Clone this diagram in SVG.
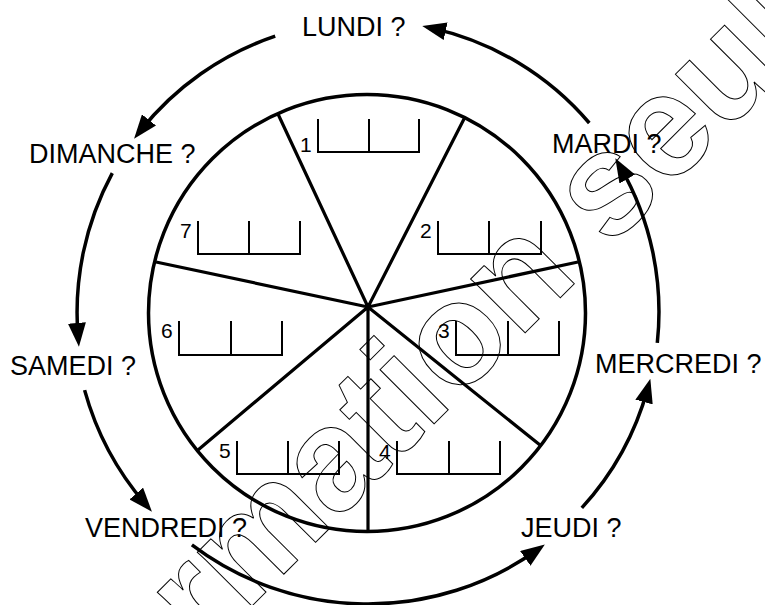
<svg xmlns="http://www.w3.org/2000/svg" width="765" height="605" viewBox="0 0 765 605">
<style>
.lbl{font-family:"Liberation Sans",Arial,Helvetica,sans-serif;font-size:27px;fill:#000}
.dig{font-family:"Liberation Sans",Arial,Helvetica,sans-serif;font-size:21px;fill:#000}
.box{fill:none;stroke:#000;stroke-width:2}
.spoke{stroke:#000;stroke-width:3.2;fill:none}
.arc{fill:none;stroke:#000;stroke-width:3.5;marker-end:url(#ah)}
.wm{font-family:"Liberation Sans",Arial,Helvetica,sans-serif;font-size:145px;font-weight:bold;fill:none;stroke:#000;stroke-width:1}
</style>
<defs>
<marker id="ah" markerUnits="userSpaceOnUse" markerWidth="24" markerHeight="18" viewBox="0 0 24 18" refX="14" refY="9" orient="auto">
<path d="M0,0 L24,9 L0,18 z" fill="#000"/>
</marker>
</defs>
<rect width="765" height="605" fill="#fff"/>
<g id="wheel">
<circle cx="367" cy="313" r="218.5" fill="none" stroke="#000" stroke-width="3.5"/>
<path class="spoke" d="M368,307 L278,114 M368,307 L464.5,118 M368,307 L578,262 M368,307 L540,445 M368,307 L368,530 M368,307 L198,450 M368,307 L156,262"/>
</g>
<g id="slot1"><text class="dig" x="300" y="152">1</text><path class="box" d="M318,119 V152 H419 V119 M369,119 V152"/></g>
<g id="slot2"><text class="dig" x="420" y="238">2</text><path class="box" d="M438,221 V254 H541 V221 M489,221 V254"/></g>
<g id="slot3"><text class="dig" x="438" y="338">3</text><path class="box" d="M456,321 V355 H559 V321 M508,321 V355"/></g>
<g id="slot4"><text class="dig" x="379" y="459">4</text><path class="box" d="M397,441 V474 H500 V441 M449,441 V474"/></g>
<g id="slot5"><text class="dig" x="219" y="458">5</text><path class="box" d="M237,441 V474 H339 V441 M288,441 V474"/></g>
<g id="slot6"><text class="dig" x="161" y="338">6</text><path class="box" d="M179,321 V355 H282 V321 M231,321 V355"/></g>
<g id="slot7"><text class="dig" x="180" y="238">7</text><path class="box" d="M198,221 V254 H300 V221 M249,221 V254"/></g>
<g id="lundi"><text class="lbl" x="302" y="36">LUNDI ?</text></g>
<g id="mardi"><text class="lbl" x="552" y="153">MARDI ?</text></g>
<g id="mercredi"><text class="lbl" x="595" y="373">MERCREDI ?</text></g>
<g id="jeudi"><text class="lbl" x="521" y="537">JEUDI ?</text></g>
<g id="vendredi"><text class="lbl" x="85" y="537">VENDREDI ?</text></g>
<g id="samedi"><text class="lbl" x="10" y="375">SAMEDI ?</text></g>
<g id="dimanche"><text class="lbl" x="29" y="163">DIMANCHE ?</text></g>
<g id="connectors">
<path class="arc" d="M275.2,36.2 A291,291 0 0 0 140.3,130.9"/>
<path class="arc" d="M589.3,123 A290,290 0 0 0 432,28.1"/>
<path class="arc" d="M112.3,173.1 A293,293 0 0 0 78.1,336.9"/>
<path class="arc" d="M84.6,390.1 A294,294 0 0 0 145.4,504.1"/>
<path class="arc" d="M191.9,544.9 A292,292 0 0 0 536.7,550.3"/>
<path class="arc" d="M581.8,507.9 A290,290 0 0 0 647.7,388.5"/>
<path class="arc" d="M657.3,342.9 A291,291 0 0 0 620.3,166.9"/>
</g>
<g id="watermark">
<text class="wm" transform="translate(108,750) rotate(-45)">formation seule</text>
</g>
</svg>
